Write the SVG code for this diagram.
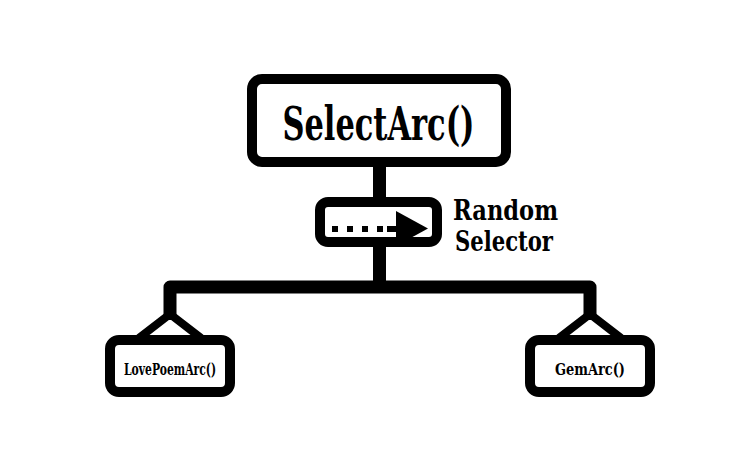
<svg xmlns="http://www.w3.org/2000/svg" width="738" height="464" viewBox="0 0 738 464">
<style>
.box{fill:#fff;stroke:#000;stroke-width:10}
.wire{fill:none;stroke:#000;stroke-width:13;stroke-linejoin:round}
.hang{fill:none;stroke:#000;stroke-width:8;stroke-linejoin:miter}
.t{font-family:"DejaVu Serif Condensed","DejaVu Serif",serif;font-weight:bold;fill:#000}
</style>
<rect width="738" height="464" fill="#fff"/>
<g id="connectors">
<path class="wire" d="M379.5,162 V202"/>
<path class="wire" d="M379.5,242 V287"/>
<path class="wire" d="M170,320 V287 H590 V320"/>
<path class="hang" d="M139,338 L170,314 L201,338"/>
<path class="hang" d="M559,338 L590,314 L621,338"/>
</g>
<g id="selectArc">
<rect class="box" x="252" y="79" width="254" height="83" rx="10"/>
<text class="t" x="378.5" y="140" font-size="46" text-anchor="middle" textLength="192" lengthAdjust="spacingAndGlyphs">SelectArc()</text>
</g>
<g id="randomSelector">
<rect class="box" x="320" y="202" width="117" height="40" rx="8"/>
<path d="M332,229 H383" stroke="#000" stroke-width="6" stroke-dasharray="6,9" fill="none"/>
<path d="M387,229 H400" stroke="#000" stroke-width="6" fill="none"/>
<polygon points="396,211 428,228.5 396,246" fill="#000"/>
<text class="t" x="453" y="220" font-size="28" textLength="105" lengthAdjust="spacingAndGlyphs">Random</text>
<text class="t" x="455" y="251" font-size="28" textLength="98" lengthAdjust="spacingAndGlyphs">Selector</text>
</g>
<g id="lovePoemArc">
<rect class="box" x="110" y="340" width="120" height="52" rx="9"/>
<text class="t" x="170" y="375" font-size="17" text-anchor="middle" textLength="92" lengthAdjust="spacingAndGlyphs">LovePoemArc()</text>
</g>
<g id="gemArc">
<rect class="box" x="530" y="340" width="120" height="52" rx="9"/>
<text class="t" x="590" y="375" font-size="17" text-anchor="middle" textLength="70" lengthAdjust="spacingAndGlyphs">GemArc()</text>
</g>
</svg>
